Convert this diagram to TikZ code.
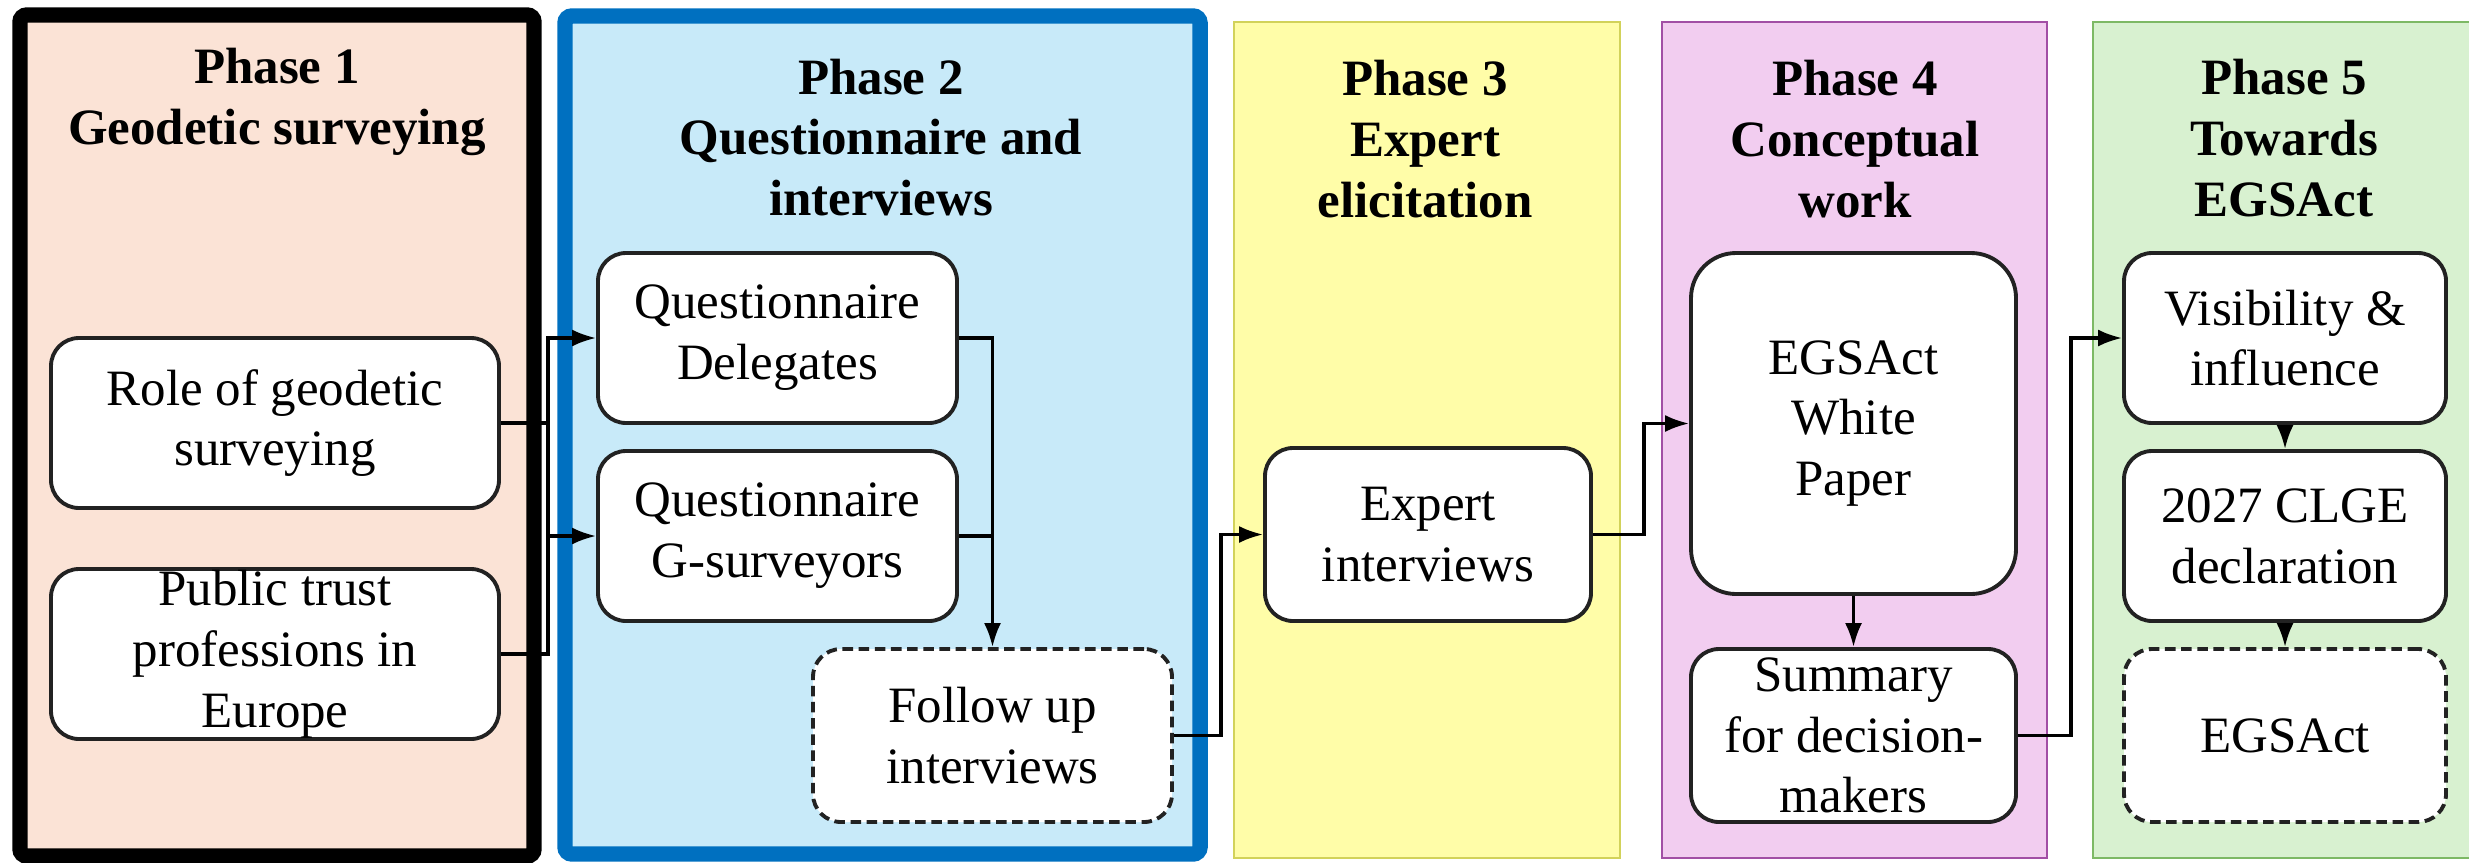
\documentclass[tikz,border=0pt]{standalone}
\usepackage{fontspec}
\setmainfont{Liberation Serif}
\usetikzlibrary{arrows.meta, positioning, calc}

\definecolor{peachfill}{HTML}{FBE3D6}
\definecolor{skyfill}{HTML}{C8EAF9}
\definecolor{skyline}{HTML}{0070C0}
\definecolor{lemonfill}{HTML}{FFFDA8}
\definecolor{lemonline}{HTML}{D2D25A}
\definecolor{orchidfill}{HTML}{F2CDF0}
\definecolor{orchidline}{HTML}{A24FA5}
\definecolor{mintfill}{HTML}{D8F1D0}
\definecolor{mintline}{HTML}{7DB965}
\definecolor{boxline}{HTML}{222222}

\tikzset{
    % --- Phase background frame ---
    phase frame/.style = {
        rectangle, draw, line width=0.8pt,
        inner sep=0pt
    },
    % --- Phase heading ---
    phase title/.style = {
        font=\fontsize{14.5}{17.3}\selectfont\bfseries,
        align=center, inner sep=0pt
    },
    % --- Task box (rounded, white) ---
    task/.style = {
        rectangle, draw=boxline, line width=1.1pt, fill=white,
        rounded corners=0.28cm, inner sep=0pt,
        minimum height=1.70cm,
        font=\fontsize{14.5}{17.3}\selectfont, align=center
    },
    % --- Planned task (dashed outline) ---
    open task/.style = {
        task, dash pattern=on 3pt off 1.6pt
    },
    % --- Flow arrow ---
    flow arrow/.style = {
        -{Latex[length=2.4mm, width=1.7mm]}, line width=0.9pt, black
    },
    % --- Plain joining wire ---
    flow line/.style = {
        line width=0.9pt, black
    }
}

\begin{document}
\begin{tikzpicture}

\useasboundingbox (0,0) rectangle (24.69,8.62);

% ---------------------------------------------------------
% Phase frames
% ---------------------------------------------------------
\node[phase frame, draw=black, fill=peachfill, line width=4.4pt, rounded corners=2pt,
      minimum width=5.14cm, minimum height=8.41cm] (P1) at (2.77, 4.265) {};
\node[phase frame, draw=skyline, fill=skyfill, line width=4.4pt, rounded corners=2pt,
      minimum width=6.35cm, minimum height=8.38cm] (P2) at (8.825, 4.27) {};
\node[phase frame, draw=lemonline, fill=lemonfill,
      minimum width=3.86cm, minimum height=8.36cm] (P3) at (14.27, 4.22) {};
\node[phase frame, draw=orchidline, fill=orchidfill,
      minimum width=3.85cm, minimum height=8.36cm] (P4) at (18.545, 4.22) {};
\node[phase frame, draw=mintline, fill=mintfill,
      minimum width=3.82cm, minimum height=8.36cm] (P5) at (22.84, 4.22) {};

% ---------------------------------------------------------
% Phase titles
% ---------------------------------------------------------
\node[phase title] (T1) at (2.77, 7.60)   {Phase 1\\Geodetic surveying};
\node[phase title] (T2) at (8.81, 7.245)  {Phase 2\\Questionnaire and\\interviews};
\node[phase title] (T3) at (14.25, 7.23)  {Phase 3\\Expert\\elicitation};
\node[phase title] (T4) at (18.55, 7.23)  {Phase 4\\Conceptual\\work};
\node[phase title] (T5) at (22.84, 7.24)  {Phase 5\\Towards\\EGSAct};

% ---------------------------------------------------------
% Phase 1 tasks
% ---------------------------------------------------------
\node[task, minimum width=4.48cm] (Role)   at (2.75, 4.39) {Role of geodetic\\surveying};
\node[task, minimum width=4.48cm] (Public) at (2.75, 2.08) {Public trust\\professions in\\Europe};

% ---------------------------------------------------------
% Phase 2 tasks
% ---------------------------------------------------------
\node[task, minimum width=3.59cm] (QDel) at (7.775, 5.24) {Questionnaire\\Delegates};
\node[task, minimum width=3.59cm] (QGs)  at (7.775, 3.26) {Questionnaire\\G-surveyors};
\node[open task, minimum width=3.59cm, minimum height=1.73cm] (Follow) at (9.925, 1.265) {Follow up\\interviews};

% ---------------------------------------------------------
% Phase 3 and 4 tasks
% ---------------------------------------------------------
\node[task, minimum width=3.26cm, minimum height=1.73cm] (Expert) at (14.28, 3.275) {Expert\\interviews};
\node[task, minimum width=3.25cm, minimum height=3.41cm, rounded corners=0.45cm] (White) at (18.535, 4.385) {EGSAct\\White\\Paper};
\node[task, minimum width=3.25cm, minimum height=1.73cm] (Summary) at (18.535, 1.265) {Summary\\for decision-\\makers};

% ---------------------------------------------------------
% Phase 5 tasks
% ---------------------------------------------------------
\node[task, minimum width=3.22cm] (Visib) at (22.85, 5.24) {Visibility \&\\influence};
\node[task, minimum width=3.22cm] (CLGE)  at (22.85, 3.26) {2027 CLGE\\declaration};
\node[open task, minimum width=3.22cm, minimum height=1.73cm] (Act) at (22.85, 1.265) {EGSAct};

% ---------------------------------------------------------
% Connectors
% ---------------------------------------------------------
\coordinate (BusA) at (5.48, 0);
\draw[flow arrow] (Role.east) -- (Role.east -| BusA) |- (QDel.west);
\draw[flow arrow] (Public.east) -- (Public.east -| BusA) |- (QGs.west);
\draw[flow line] (Role.east -| BusA) -- (QGs.west -| BusA);

\draw[flow arrow] (QDel.east) -| (Follow.north);
\draw[flow line] (QGs.east) -- (QGs.east -| Follow.north);

\draw[flow arrow] (Follow.east) -- ++(0.47, 0) |- (Expert.west);
\draw[flow arrow] (Expert.east) -- ++(0.51, 0) |- (White.west);
\draw[flow arrow] (White.south) -- (Summary.north);
\draw[flow arrow] (Summary.east) -- ++(0.53, 0) |- (Visib.west);

\draw[flow arrow] (Visib.south) -- (CLGE.north);
\draw[flow arrow] (CLGE.south) -- (Act.north);

\end{tikzpicture}
\end{document}
